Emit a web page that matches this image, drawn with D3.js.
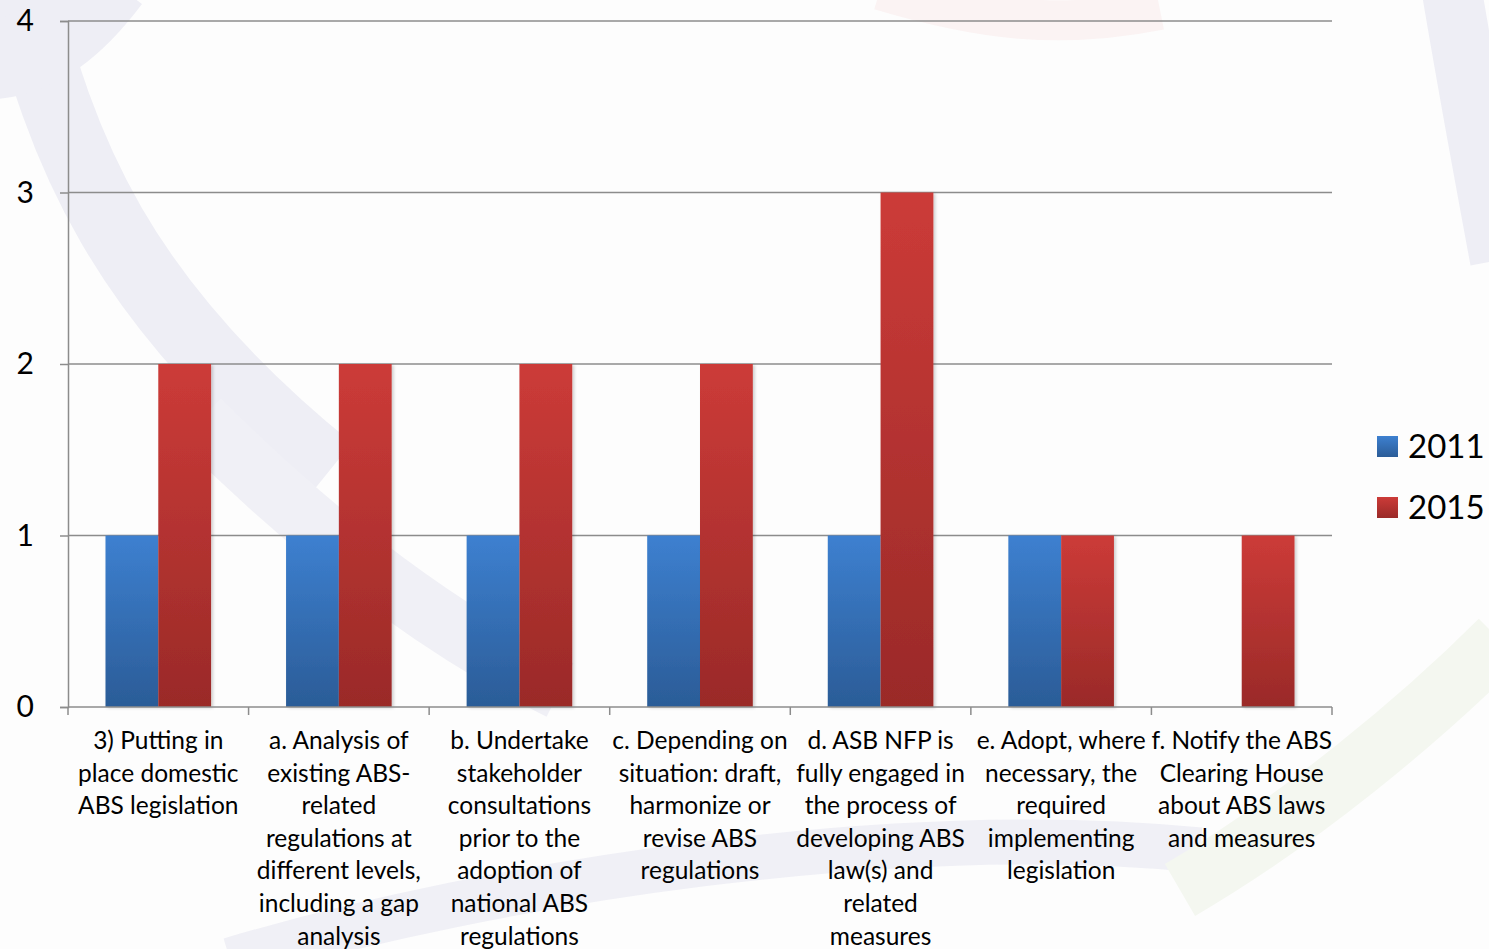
<!DOCTYPE html>
<html>
<head>
<meta charset="utf-8">
<script src="https://cdn.jsdelivr.net/npm/d3@7"></script>
<style>
  body { margin: 0; background: #fdfdfd; }
  svg { display: block; font-family: Lato, "Open Sans", sans-serif; }
</style>
</head>
<body>
<div id="chart"></div>
<script>
// data
var categories = [
  ["3) Putting in", "place domestic", "ABS legislation"],
  ["a. Analysis of", "existing ABS-", "related", "regulations at", "different levels,", "including a gap", "analysis"],
  ["b. Undertake", "stakeholder", "consultations", "prior to the", "adoption of", "national ABS", "regulations"],
  ["c. Depending on", "situation: draft,", "harmonize or", "revise ABS", "regulations"],
  ["d. ASB NFP is", "fully engaged in", "the process of", "developing ABS", "law(s) and", "related", "measures"],
  ["e. Adopt, where", "necessary, the", "required", "implementing", "legislation"],
  ["f. Notify the ABS", "Clearing House", "about ABS laws", "and measures"]
];
var seriesNames = ["2011", "2015"];
var values2011 = [1, 1, 1, 1, 1, 1, 0];
var values2015 = [2, 2, 2, 2, 3, 1, 1];
var yTicks = [0, 1, 2, 3, 4];

var width = 1489, height = 949;
var margin = { left: 68, right: 157, top: 21, bottom: 242 };

var svg = d3.select("#chart").append("svg")
    .attr("width", width)
    .attr("height", height);

var defs = svg.append("defs");
function grad(id, top, bottom) {
  var g = defs.append("linearGradient").attr("id", id)
      .attr("x1", 0).attr("y1", 0).attr("x2", 0).attr("y2", 1);
  g.append("stop").attr("offset", "0%").attr("stop-color", top);
  g.append("stop").attr("offset", "100%").attr("stop-color", bottom);
}
grad("g2011", "#3d80d0", "#2b5c97");
grad("g2015", "#cc3b38", "#9a2a28");
var colors = ["url(#g2011)", "url(#g2015)"];

var shadow = defs.append("filter").attr("id", "shadow")
    .attr("x", "-10%").attr("y", "-5%").attr("width", "130%").attr("height", "115%");
shadow.append("feDropShadow").attr("dx", 2).attr("dy", 1)
    .attr("stdDeviation", 1.5).attr("flood-color", "#000").attr("flood-opacity", 0.18);

// faint watermark behind the chart
var wm = svg.append("g").attr("fill", "none").attr("stroke-linecap", "butt");
wm.append("path").attr("d", "M20,-20 C60,150 120,300 330,470")
    .attr("stroke", "#eeeef5").attr("stroke-width", 70);
wm.append("path").attr("d", "M-20,60 C40,60 80,20 110,-20")
    .attr("stroke", "#eeeef5").attr("stroke-width", 80);
wm.append("path").attr("d", "M200,420 C300,520 420,620 560,690")
    .attr("stroke", "#f0f0f6").attr("stroke-width", 60);
wm.append("path").attr("d", "M230,960 C500,880 900,820 1200,850")
    .attr("stroke", "#f0f0f6").attr("stroke-width", 45);
wm.append("path").attr("d", "M1180,890 C1300,820 1420,720 1500,640")
    .attr("stroke", "#f4f7f0").attr("stroke-width", 60);
wm.append("path").attr("d", "M880,-10 C980,20 1060,30 1160,10")
    .attr("stroke", "#fbf3f3").attr("stroke-width", 40);
wm.append("path").attr("d", "M1450,-20 C1470,100 1489,200 1500,260")
    .attr("stroke", "#eeeef5").attr("stroke-width", 60);

var x0 = d3.scaleBand()
    .domain(d3.range(categories.length))
    .range([margin.left, width - margin.right])
    .paddingInner(0).paddingOuter(0);

var x1 = d3.scaleBand()
    .domain(seriesNames)
    .range([0, x0.bandwidth()])
    .paddingInner(0).paddingOuter(0.71);

var y = d3.scaleLinear()
    .domain([0, 4])
    .range([height - margin.bottom, margin.top]);

// gridlines
svg.append("g")
  .selectAll("line")
  .data(yTicks.filter(function (d) { return d > 0; }))
  .enter().append("line")
    .attr("x1", margin.left)
    .attr("x2", width - margin.right)
    .attr("y1", function (d) { return y(d); })
    .attr("y2", function (d) { return y(d); })
    .attr("stroke", "#8c8c8c")
    .attr("stroke-width", 1.5);

// bars
var rows = categories.map(function (c, i) {
  return [values2011[i], values2015[i]];
});
var groups = svg.append("g").selectAll("g")
  .data(rows)
  .enter().append("g")
    .attr("transform", function (d, i) { return "translate(" + x0(i) + ",0)"; });

groups.selectAll("rect")
  .data(function (d) { return d; })
  .enter().append("rect")
    .attr("x", function (d, j) { return x1(seriesNames[j]); })
    .attr("width", x1.bandwidth())
    .attr("y", function (d) { return y(d); })
    .attr("height", function (d) { return y(0) - y(d); })
    .attr("fill", function (d, j) { return colors[j]; })
    .attr("filter", "url(#shadow)");

// y axis
var yAxis = svg.append("g")
    .attr("transform", "translate(" + margin.left + ",0)")
    .call(d3.axisLeft(y).tickValues(yTicks).tickSize(8).tickPadding(26).tickFormat(d3.format("d")));
yAxis.select(".domain").attr("stroke", "#8c8c8c").attr("stroke-width", 1.5);
yAxis.selectAll(".tick line").attr("stroke", "#8c8c8c").attr("stroke-width", 1.5);
yAxis.selectAll(".tick text")
    .attr("font-size", 30)
    .attr("fill", "#000")
    .attr("font-family", "Lato, sans-serif");

// x axis line and boundary ticks
var xa = svg.append("g");
xa.append("line")
    .attr("x1", margin.left).attr("x2", width - margin.right)
    .attr("y1", y(0)).attr("y2", y(0))
    .attr("stroke", "#8c8c8c").attr("stroke-width", 1.5);
xa.selectAll(".bt")
  .data(d3.range(categories.length + 1))
  .enter().append("line")
    .attr("x1", function (i) { return i < categories.length ? x0(i) : x0.range()[1]; })
    .attr("x2", function (i) { return i < categories.length ? x0(i) : x0.range()[1]; })
    .attr("y1", y(0)).attr("y2", y(0) + 8)
    .attr("stroke", "#8c8c8c").attr("stroke-width", 1.5);

// category labels
var labels = svg.append("g").selectAll("text")
  .data(categories)
  .enter().append("text")
    .attr("text-anchor", "middle")
    .attr("font-size", 24.5)
    .attr("fill", "#000")
    .attr("transform", function (d, i) {
      return "translate(" + (x0(i) + x0.bandwidth() / 2) + "," + (y(0) + 42) + ")";
    });
labels.selectAll("tspan")
  .data(function (d) { return d; })
  .enter().append("tspan")
    .attr("x", 0)
    .attr("y", function (d, k) { return k * 32.6; })
    .text(function (d) { return d; });

// legend
var legend = svg.append("g").selectAll("g")
  .data(seriesNames)
  .enter().append("g")
    .attr("transform", function (d, i) { return "translate(1377," + (436 + i * 61) + ")"; });
legend.append("rect")
    .attr("width", 21).attr("height", 21)
    .attr("fill", function (d, i) { return colors[i]; });
legend.append("text")
    .attr("x", 31).attr("y", 22)
    .attr("font-size", 33)
    .attr("fill", "#000")
    .text(function (d) { return d; });
</script>
</body>
</html>
